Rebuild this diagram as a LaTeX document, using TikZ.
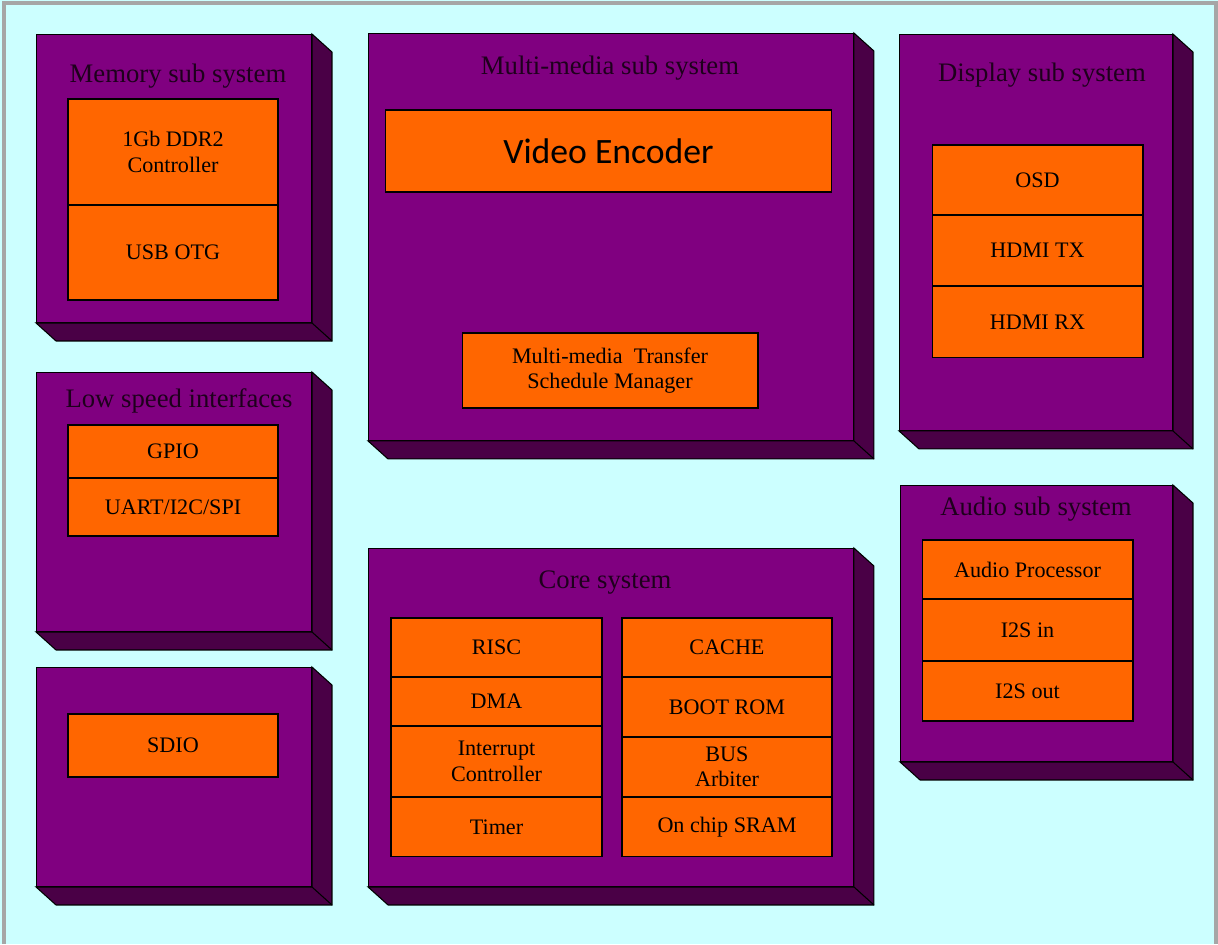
\documentclass[tikz,border=0pt]{standalone}
\usepackage{fontspec}
\setmainfont{Liberation Serif}
\newfontfamily\encfont{Carlito}
\usepackage{tikz}
\usetikzlibrary{positioning,calc}
\usepackage{xcolor}
\definecolor{bgcyan}{HTML}{CCFFFF}
\definecolor{subpurple}{HTML}{800080}
\definecolor{subshade}{HTML}{4A0046}
\definecolor{cellorange}{HTML}{FF6600}
\definecolor{titleink}{HTML}{1E001C}

\begin{document}
\begin{tikzpicture}[
x=0.02cm,y=-0.02cm,
node distance=0pt,
sub/.style={rectangle,draw,fill=subpurple,outer sep=0pt,inner sep=0pt,line width=0.6pt},
side/.style={draw,fill=subshade,line width=0.6pt},
cell/.style={rectangle,draw,fill=cellorange,outer sep=0pt,inner sep=0pt,align=center,minimum width=4.2cm,line width=0.6pt,font=\fontsize{12.6}{14.5}\selectfont},
ttl/.style={text=titleink,font=\fontsize{15.2}{18}\selectfont}
]
% background
\useasboundingbox (0,0) rectangle (1218,944);
\fill[bgcyan] (0,0) rectangle (1218,944);
\draw[gray!70,line width=2.5pt] (4,944) -- (4,3) -- (1216,3) -- (1216,944);

% sub system blocks
\node[sub,minimum width=5.52cm,minimum height=5.78cm] (mem) at (174,178.5) {};
\node[sub,minimum width=5.52cm,minimum height=5.2cm] (low) at (174,502) {};
\node[sub,minimum width=5.52cm,minimum height=4.4cm] (sdio) at (174,777) {};
\node[sub,minimum width=9.72cm,minimum height=8.16cm] (mm) at (611,237) {};
\node[sub,minimum width=9.72cm,minimum height=6.78cm] (core) at (611,717.5) {};
\node[sub,minimum width=5.48cm,minimum height=7.94cm] (disp) at (1036,232.5) {};
\node[sub,minimum width=5.46cm,minimum height=5.54cm] (aud) at (1036.5,623.5) {};

% depth faces
\foreach \b in {mem,low,sdio,mm,core,disp,aud}{
  \filldraw[side] (\b.north east) -- ++(20,18) -- ($(\b.south east)+(20,18)$)
    -- ($(\b.south west)+(20,18)$) -- (\b.south west) -- (\b.south east) -- cycle;
  \draw[line width=0.6pt] (\b.south east) -- ++(20,18);
}

% titles
\node[ttl] (memt) at (178,76) {Memory sub system};
\node[ttl] (lowt) at (179,401) {Low speed interfaces};
\node[ttl] (mmt) at (610,68) {Multi-media sub system};
\node[ttl] (coret) at (605,583) {Core system};
\node[ttl] (dispt) at (1042,75) {Display sub system};
\node[ttl] (audt) at (1036,509) {Audio sub system};

% memory
\node[cell,minimum height=2.12cm] (ddr) at (173,152) {1Gb DDR2\\Controller};
\node[cell,minimum height=1.9cm,below=of ddr] (usb) {USB OTG};

% low speed
\node[cell,minimum height=1.06cm] (gpio) at (173,451.5) {GPIO};
\node[cell,minimum height=1.16cm,below=of gpio] (uart) {UART/I2C/SPI};

% sdio
\node[cell,minimum height=1.26cm] (sd) at (173,745.5) {SDIO};

% multi-media
\node[cell,minimum width=8.94cm,minimum height=1.64cm,font=\encfont\fontsize{20.3}{24}\selectfont] (venc) at (608.5,151) {Video Encoder};
\node[cell,minimum width=5.92cm,minimum height=1.5cm] (mtsm) at (610,370.5) {Multi-media~ Transfer\\Schedule Manager};

% display
\node[cell,minimum width=4.22cm,minimum height=1.4cm] (osd) at (1037.5,180) {OSD};
\node[cell,minimum width=4.22cm,minimum height=1.42cm,below=of osd] (htx) {HDMI TX};
\node[cell,minimum width=4.22cm,minimum height=1.44cm,below=of htx] (hrx) {HDMI RX};

% audio
\node[cell,minimum width=4.22cm,minimum height=1.18cm] (aproc) at (1027.5,569.5) {Audio Processor};
\node[cell,minimum width=4.22cm,minimum height=1.24cm,below=of aproc] (i2sin) {I2S in};
\node[cell,minimum width=4.22cm,minimum height=1.2cm,below=of i2sin] (i2sout) {I2S out};

% core, left column
\node[cell,minimum width=4.22cm,minimum height=1.18cm] (risc) at (496.5,647.5) {RISC};
\node[cell,minimum width=4.22cm,minimum height=0.98cm,below=of risc] (dma) {DMA};
\node[cell,minimum width=4.22cm,minimum height=1.42cm,below=of dma] (intc) {Interrupt\\Controller};
\node[cell,minimum width=4.22cm,minimum height=1.2cm,below=of intc] (timer) {Timer};

% core, right column
\node[cell,minimum height=1.18cm] (cache) at (727,647.5) {CACHE};
\node[cell,minimum height=1.2cm,below=of cache] (boot) {BOOT ROM};
\node[cell,minimum height=1.2cm,below=of boot] (bus) {BUS\\Arbiter};
\node[cell,minimum height=1.2cm,below=of bus] (sram) {On chip SRAM};
\end{tikzpicture}
\end{document}
